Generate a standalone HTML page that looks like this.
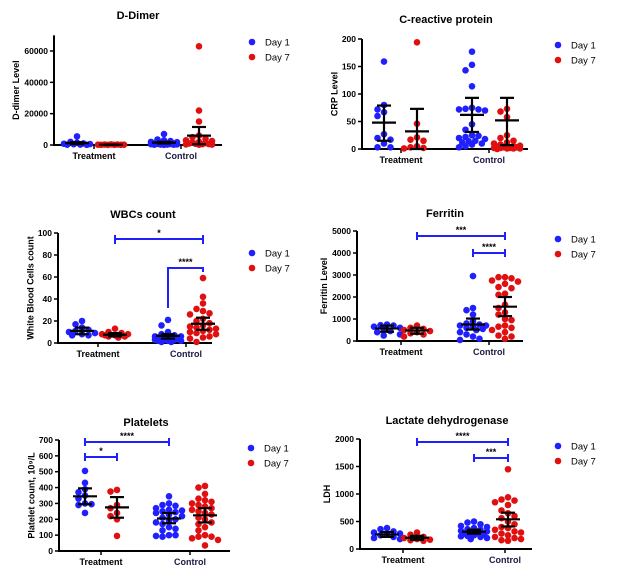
<!DOCTYPE html>
<html><head><meta charset="utf-8"><style>
html,body{margin:0;padding:0;background:#fff;}
svg{display:block;font-family:"Liberation Sans",Arial,sans-serif;}
</style></head><body>
<svg id="c" width="618" height="576" viewBox="0 0 618 576"></svg>
<script>
// ---- data ----
const groupLabels=["Treatment","Control"];
const seriesLabels=["Day 1","Day 7"];
const ddTrD1=[5500,2000,1500,1000,800,600,500,300,200,100];
const ddTrD7=[400,300,300,200,200,150,100,100,100];
const ddCtD1=[7000,3500,3000,2500,2000,1800,1500,1200,1000,900,800,700,600,500,400,300,300,200,200,100];
const ddCtD7=[63000,22000,15000,6000,5000,4000,3000,2500,2000,1500,1200,1000,800,600,500,400,300,200];
const ddMean=[1200,200,1500,6000], ddLo=[600,100,1000,500], ddHi=[1800,300,2000,11500];
const crpTrD1=[159,80,72,67,60,27,20,17,10,3,3];
const crpTrD7=[194,46,21,17,15,5,3,2,1];
const crpCtD1=[177,153,143,114,75,73,72,72,70,45,35,25,24,22,20,18,15,14,12,10,8,5,3];
const crpCtD7=[73,68,58,25,20,15,12,10,8,6,5,5,4,3,3,2,2,2,1,1,1,0];
const crpMean=[48,32,62,52], crpLo=[15,0,31,7], crpHi=[79,73,93,93];
const wbcTrD1=[20,17,14,12,11,10,9,8,7,7];
const wbcTrD7=[13,10,9,8,8,7,7,6,6,5];
const wbcCtD1=[21,16,10,8,7,6,6,5,5,4,4,4,3,3,3,2,2,2,1,1];
const wbcCtD7=[59,42,36,31,29,27,26,22,20,18,16,15,14,13,12,11,10,9,8,6,5,4,1];
const wbcMean=[11,7.5,6.5,17.5], wbcLo=[8,6,4,12], wbcHi=[14,9,8,23];
const ferTrD1=[750,720,700,650,600,550,450,400,300,250];
const ferTrD7=[700,600,550,500,450,400,350,300,200];
const ferCtD1=[2950,1500,1400,1200,900,800,750,700,700,650,600,550,500,400,300,200,100,50];
const ferCtD7=[2900,2900,2850,2750,2700,2600,2450,2400,2150,2100,1650,1500,1300,1200,1000,950,700,650,600,500,400,250,200,100];
const ferMean=[570,480,750,1560], ferLo=[420,330,520,1130], ferHi=[700,600,1020,2000];
const pltTrD1=[505,430,390,370,350,330,300,295,290,240];
const pltTrD7=[385,375,290,270,240,220,200,95];
const pltCtD1=[345,300,290,285,270,260,255,250,245,240,230,220,210,200,190,180,170,150,140,130,100,100,95,90];
const pltCtD7=[410,400,360,330,320,310,300,290,280,270,260,250,240,230,210,200,180,170,150,130,100,90,90,80,70,35];
const pltMean=[345,275,205,225], pltLo=[295,210,175,180], pltHi=[395,340,240,270];
const ldhTrD1=[380,360,320,300,280,260,250,220,200,180];
const ldhTrD7=[300,260,220,200,180,170,160,150];
const ldhCtD1=[500,480,450,420,400,380,360,350,330,320,300,290,280,260,250,240,230,220,200,180];
const ldhCtD7=[1450,940,900,880,850,800,700,650,600,560,500,450,400,380,350,320,300,280,250,220,200,180,160,150];
const ldhMean=[265,205,315,540], ldhLo=[220,165,280,410], ldhHi=[310,240,350,660];
const ddTicks=[0,20000,40000,60000], crpTicks=[0,50,100,150,200], wbcTicks=[0,20,40,60,80,100];
const ferTicks=[0,1000,2000,3000,4000,5000], pltTicks=[0,100,200,300,400,500,600,700], ldhTicks=[0,500,1000,1500,2000];

// ---- layout ----
const panels=[
 {name:"d-dimer",title:"D-Dimer",ytitle:"D-dimer Level",ax:54,y0:145,yTop:51,vTop:60000,vMax:70000,xEnd:222,gx:[77,111,164,199],lx:[94,181],ty:19,tx:138,legX:252,legY:42,ticks:ddTicks,data:[ddTrD1,ddTrD7,ddCtD1,ddCtD7],mean:ddMean,lo:ddLo,hi:ddHi,br:[]},
 {name:"crp",title:"C-reactive protein",ytitle:"CRP Level",ax:362,y0:149,yTop:39,vTop:200,vMax:200,xEnd:528,gx:[384,417,472,507],lx:[401,489],ty:23,tx:446,legX:558,legY:45,ticks:crpTicks,data:[crpTrD1,crpTrD7,crpCtD1,crpCtD7],mean:crpMean,lo:crpLo,hi:crpHi,br:[]},
 {name:"wbc",title:"WBCs count",ytitle:"White Blood Cells count",ax:58,y0:343,yTop:233,vTop:100,vMax:100,xEnd:212,gx:[82,115,168,203],lx:[98,186],ty:218,tx:143,legX:252,legY:253,ticks:wbcTicks,data:[wbcTrD1,wbcTrD7,wbcCtD1,wbcCtD7],mean:wbcMean,lo:wbcLo,hi:wbcHi,
  br:[{a:115,b:203,y:239,l:"*",la:244,lb:244},{a:168,b:203,y:268,l:"****",la:308,lb:272}]},
 {name:"ferritin",title:"Ferritin",ytitle:"Ferritin Level",ax:357,y0:341,yTop:231,vTop:5000,vMax:5000,xEnd:523,gx:[387,417,473,505],lx:[401,489],ty:217,tx:445,legX:558,legY:239,ticks:ferTicks,data:[ferTrD1,ferTrD7,ferCtD1,ferCtD7],mean:ferMean,lo:ferLo,hi:ferHi,
  br:[{a:417,b:505,y:236,l:"***",la:240,lb:240},{a:473,b:505,y:253,l:"****",la:257,lb:257}]},
 {name:"platelets",title:"Platelets",ytitle:"Platelet count, 10⁹/L",ax:59,y0:551,yTop:440,vTop:700,vMax:700,xEnd:230,gx:[85,117,169,205],lx:[101,190],ty:426,tx:146,legX:251,legY:448,ticks:pltTicks,data:[pltTrD1,pltTrD7,pltCtD1,pltCtD7],mean:pltMean,lo:pltLo,hi:pltHi,
  br:[{a:85,b:169,y:442,l:"****",la:446,lb:446},{a:85,b:117,y:457,l:"*",la:461,lb:461}]},
 {name:"ldh",title:"Lactate dehydrogenase",ytitle:"LDH",ax:360,y0:549,yTop:439,vTop:2000,vMax:2000,xEnd:532,gx:[387,417,474,508],lx:[403,505],ty:424,tx:447,legX:558,legY:446,ticks:ldhTicks,data:[ldhTrD1,ldhTrD7,ldhCtD1,ldhCtD7],mean:ldhMean,lo:ldhLo,hi:ldhHi,
  br:[{a:417,b:508,y:442,l:"****",la:446,lb:446},{a:474,b:508,y:458,l:"***",la:462,lb:462}]}
];
const NS="http://www.w3.org/2000/svg";
const svg=document.getElementById("c");
const COL=["#1f1fff","#e01010"];
const OFFS=[0,-6.5,6.5,-13,13,-3.3,3.3,-9.8,9.8];
function mk(tag,attrs,parent,text){const e=document.createElementNS(NS,tag);for(const k in attrs)e.setAttribute(k,attrs[k]);if(text!==undefined)e.textContent=text;(parent||svg).appendChild(e);return e;}
panels.forEach(p=>{
 const g=mk("g",{});
 
 
 const Y=v=>p.y0-(v/p.vTop)*(p.y0-p.yTop);
 const top=Y(p.vMax);
 const t=mk("text",{x:p.tx,y:p.ty,"text-anchor":"middle","font-size":"11","font-weight":"bold"},g,p.title);
 
 
 const yl=mk("line",{x1:p.ax,y1:top,x2:p.ax,y2:p.y0,stroke:"#000","stroke-width":2},g);
 
 
 const xl=mk("line",{x1:p.ax-1,y1:p.y0,x2:p.xEnd,y2:p.y0,stroke:"#000","stroke-width":2},g);
 
 
 p.ticks.forEach(v=>{
  mk("line",{x1:p.ax-4,y1:Y(v),x2:p.ax,y2:Y(v),stroke:"#000","stroke-width":1.5},g);
  const tl=mk("text",{x:p.ax-6,y:Y(v)+3,"text-anchor":"end","font-size":"8.5","font-weight":"bold"},g,String(v));
  
  
 });
 const cy=(top+p.y0)/2, tx=p.ax-(String(p.ticks[p.ticks.length-1]).length*5.2+9);
 const yt=mk("text",{x:tx,y:cy,"text-anchor":"middle","font-size":"9","font-weight":"bold",transform:`rotate(-90 ${tx} ${cy})`},g,p.ytitle);
 
 
 groupLabels.forEach((gl,i)=>{
  mk("line",{x1:p.lx[i],y1:p.y0,x2:p.lx[i],y2:p.y0+4,stroke:"#000","stroke-width":1.5},g);
  const xt=mk("text",{x:p.lx[i],y:p.y0+14,"text-anchor":"middle","font-size":"9","font-weight":"bold",fill:i?"#1a1a44":"#000"},g,gl);
  
  
 });
 p.data.forEach((arr,si)=>{
  const placed=[];
  [...arr].sort((a,b)=>b-a).forEach(v=>{
   const y=Y(v);let best=0,bestD=-1;
   for(const o of OFFS){
    let d=Infinity;placed.forEach(q=>{d=Math.min(d,Math.hypot(q[0]-o,q[1]-y));});
    if(d>6.2){best=o;bestD=d;break;}
    if(d>bestD){bestD=d;best=o;}
   }
   placed.push([best,y]);
   const c=mk("circle",{cx:p.gx[si]+best,cy:y,r:3.3,fill:COL[si%2]},g);
   
   
  });
 });
 p.data.forEach((arr,si)=>{
  const x=p.gx[si];
  const eb=mk("g",{stroke:"#000","stroke-width":2.2},g);
  
  
  mk("line",{x1:x,y1:Y(p.lo[si]),x2:x,y2:Y(p.hi[si])},eb);
  mk("line",{x1:x-12,y1:Y(p.mean[si]),x2:x+12,y2:Y(p.mean[si])},eb);
  mk("line",{x1:x-7,y1:Y(p.lo[si]),x2:x+7,y2:Y(p.lo[si])},eb);
  mk("line",{x1:x-7,y1:Y(p.hi[si]),x2:x+7,y2:Y(p.hi[si])},eb);
 });
 p.br.forEach(b=>{
  const bg=mk("g",{},g);
  
  
  mk("polyline",{points:`${b.a},${b.la} ${b.a},${b.y} ${b.b},${b.y} ${b.b},${b.lb}`,fill:"none",stroke:"#1f1fff","stroke-width":2},bg);
  if(b.la===b.lb){mk("line",{x1:b.a,y1:b.y-4,x2:b.a,y2:b.y+4,stroke:"#1f1fff","stroke-width":2},bg);mk("line",{x1:b.b,y1:b.y-4,x2:b.b,y2:b.y+4,stroke:"#1f1fff","stroke-width":2},bg);}
  mk("text",{x:(b.a+b.b)/2,y:b.y-3,"text-anchor":"middle","font-size":"9","font-weight":"bold"},bg,b.l);
 });
 seriesLabels.forEach((s,i)=>{
  const le=mk("g",{},g);
  
  
  mk("circle",{cx:p.legX,cy:p.legY+i*15,r:3.3,fill:COL[i]},le);
  mk("text",{x:p.legX+13,y:p.legY+i*15+3.5,"font-size":"9.5"},le,s);
 });
});
</script>
</body></html>
